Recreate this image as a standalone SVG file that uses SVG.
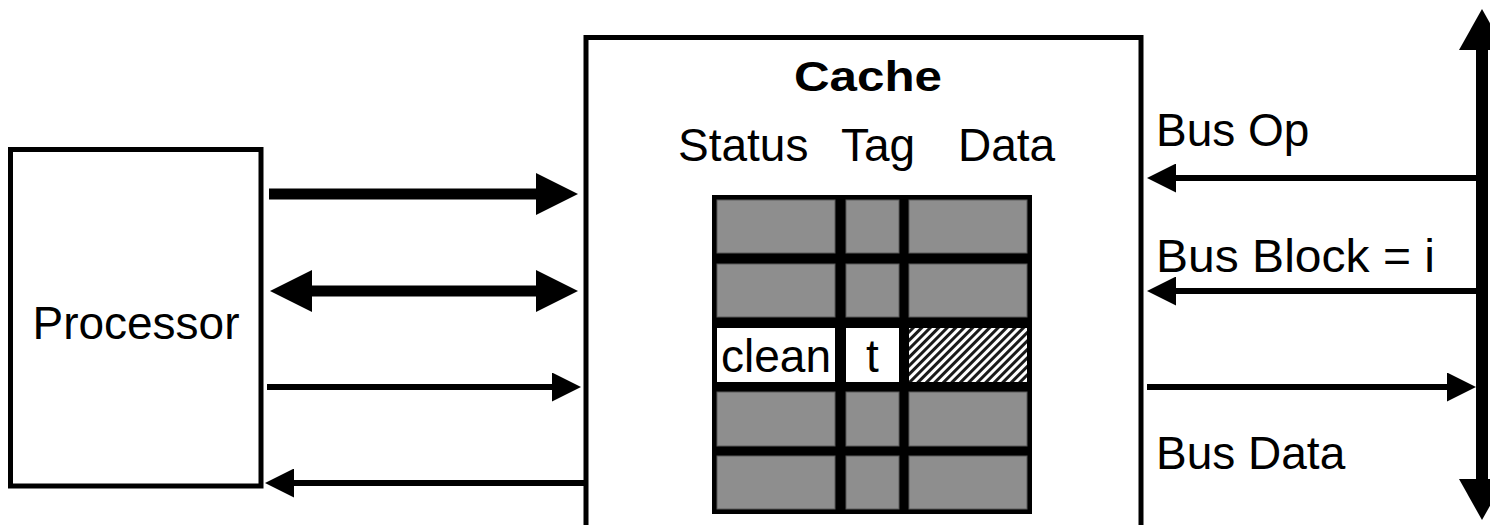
<svg xmlns="http://www.w3.org/2000/svg" width="1490" height="525" viewBox="0 0 1490 525">
  <style>
    .box { fill: #ffffff; stroke: #000000; stroke-width: 5; }
    .lbl { font-family: "Liberation Sans", Arial, sans-serif; font-size: 46px; fill: #000000; }
    .title { font-family: "Liberation Sans", Arial, sans-serif; font-size: 42px; font-weight: bold; fill: #000000; }
    .cell { fill: #8e8e8e; stroke: #5a5a5a; stroke-width: 1; }
    .blank { fill: #ffffff; }
    .wide { stroke: #000000; stroke-width: 11; fill: none; }
    .thin { stroke: #000000; stroke-width: 6; fill: none; }
    .bus { stroke: #000000; stroke-width: 12; fill: none; }
  </style>
  <defs>
    <marker id="headWide" markerUnits="userSpaceOnUse" viewBox="0 -21 42 42" refX="0" refY="0" markerWidth="42" markerHeight="42" orient="auto-start-reverse">
      <path d="M0,-21 L42,0 L0,21 Z" fill="#000000"/>
    </marker>
    <marker id="headThin" markerUnits="userSpaceOnUse" viewBox="0 -14.5 29 29" refX="0" refY="0" markerWidth="29" markerHeight="29" orient="auto-start-reverse">
      <path d="M0,-14.5 L29,0 L0,14.5 Z" fill="#000000"/>
    </marker>
    <marker id="headBus" markerUnits="userSpaceOnUse" viewBox="0 -23 41 46" refX="0" refY="0" markerWidth="41" markerHeight="46" orient="auto-start-reverse">
      <path d="M0,-23 L41,0 L0,23 Z" fill="#000000"/>
    </marker>
    <pattern id="hatch" patternUnits="userSpaceOnUse" width="6" height="6" patternTransform="rotate(45)">
      <rect x="0" y="0" width="6" height="6" fill="#ffffff"/>
      <rect x="0" y="0" width="3" height="6" fill="#1a1a1a"/>
    </pattern>
  </defs>

  <!-- processor block -->
  <g id="processor">
    <rect class="box" x="10.5" y="149.5" width="250.5" height="336.5"/>
    <text class="lbl" x="136" y="339" text-anchor="middle">Processor</text>
  </g>

  <!-- cache block with its status / tag / data array -->
  <g id="cache">
    <rect class="box" x="586" y="37.5" width="555" height="520"/>
    <text class="title" x="794" y="91" textLength="148" lengthAdjust="spacingAndGlyphs">Cache</text>
    <text class="lbl" x="678" y="161">Status</text>
    <text class="lbl" x="841" y="161">Tag</text>
    <text class="lbl" x="958" y="161">Data</text>
    <rect x="712" y="195" width="320" height="319" fill="#000000"/>
    <g id="row1">
      <rect class="cell" x="717" y="200" width="118" height="53"/>
      <rect class="cell" x="846" y="200" width="53" height="53"/>
      <rect class="cell" x="909" y="200" width="118" height="53"/>
    </g>
    <g id="row2">
      <rect class="cell" x="717" y="264" width="118" height="53"/>
      <rect class="cell" x="846" y="264" width="53" height="53"/>
      <rect class="cell" x="909" y="264" width="118" height="53"/>
    </g>
    <g id="row3">
      <rect class="blank" x="717" y="328" width="118" height="54"/>
      <rect class="blank" x="846" y="328" width="53" height="54"/>
      <rect x="909" y="328" width="118" height="54" fill="url(#hatch)"/>
      <text class="lbl" x="776" y="372" text-anchor="middle">clean</text>
      <text class="lbl" x="872.5" y="372" text-anchor="middle">t</text>
    </g>
    <g id="row4">
      <rect class="cell" x="717" y="392" width="118" height="54"/>
      <rect class="cell" x="846" y="392" width="53" height="54"/>
      <rect class="cell" x="909" y="392" width="118" height="54"/>
    </g>
    <g id="row5">
      <rect class="cell" x="717" y="456" width="118" height="53"/>
      <rect class="cell" x="846" y="456" width="53" height="53"/>
      <rect class="cell" x="909" y="456" width="118" height="53"/>
    </g>
  </g>

  <!-- system bus -->
  <g id="bus">
    <line class="bus" x1="1482" y1="50" x2="1482" y2="479" marker-start="url(#headBus)" marker-end="url(#headBus)"/>
    <text class="lbl" x="1156" y="146">Bus Op</text>
    <text class="lbl" x="1156" y="272" textLength="279" lengthAdjust="spacingAndGlyphs">Bus Block = i</text>
    <text class="lbl" x="1156" y="469">Bus Data</text>
  </g>

  <!-- connectors -->
  <g id="connectors">
    <line class="wide" x1="269" y1="194" x2="536" y2="194" marker-end="url(#headWide)"/>
    <line class="wide" x1="312" y1="291" x2="536" y2="291" marker-start="url(#headWide)" marker-end="url(#headWide)"/>
    <line class="thin" x1="267" y1="387" x2="552" y2="387" marker-end="url(#headThin)"/>
    <line class="thin" x1="586" y1="483" x2="294" y2="483" marker-end="url(#headThin)"/>
    <line class="thin" x1="1477" y1="178" x2="1176" y2="178" marker-end="url(#headThin)"/>
    <line class="thin" x1="1477" y1="291" x2="1176" y2="291" marker-end="url(#headThin)"/>
    <line class="thin" x1="1147" y1="387" x2="1447" y2="387" marker-end="url(#headThin)"/>
  </g>
</svg>
